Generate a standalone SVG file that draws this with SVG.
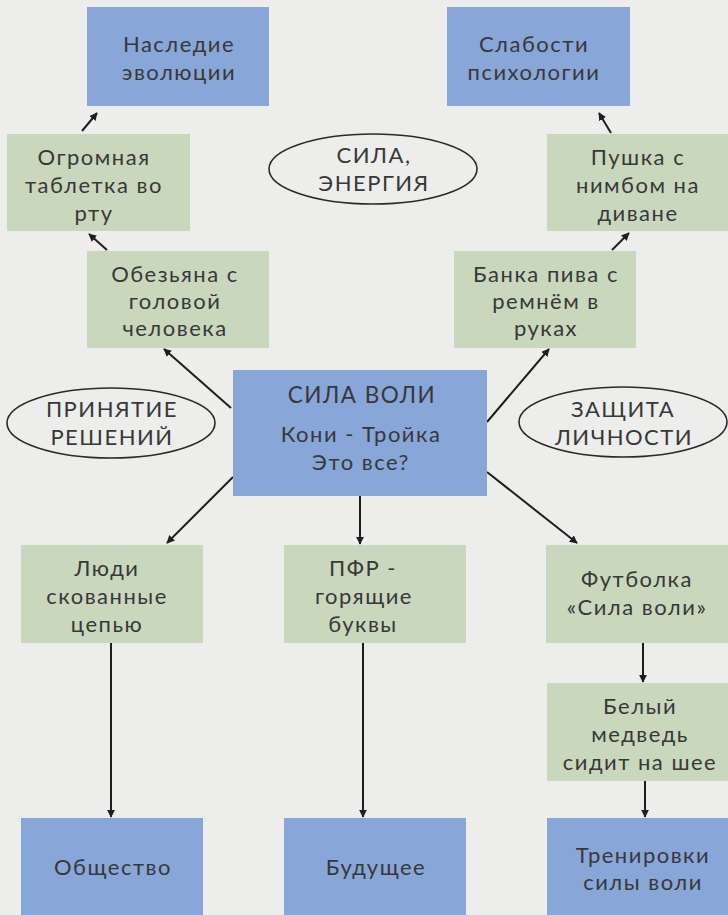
<svg xmlns="http://www.w3.org/2000/svg" width="728" height="915" viewBox="0 0 728 915">
<defs>
<marker id="ah" viewBox="0 0 10 10" refX="9" refY="5" markerWidth="4" markerHeight="4" orient="auto" markerUnits="strokeWidth">
<path d="M0,0 L10,5 L0,10 z" fill="#1e1e1e"/>
</marker>
<style>
.bg{fill:#ededeb}
.blue{fill:#89a6d8}
.green{fill:#c9d7bd}
.oval{fill:none;stroke:#2a2a2a;stroke-width:1.6}
text{font-family:Lato,"Open Sans","DejaVu Sans",sans-serif;font-size:22px;letter-spacing:1.5px;fill:#383838;text-anchor:middle}
.cap{font-size:22px}
.con{stroke:#1e1e1e;stroke-width:2;fill:none;marker-end:url(#ah)}
</style>
</defs>
<rect class="bg" x="0" y="0" width="728" height="915"/>

<g id="connectors">
<line class="con" x1="82" y1="131" x2="97" y2="113"/>
<line class="con" x1="107" y1="250" x2="89" y2="234"/>
<line class="con" x1="231" y1="408" x2="164" y2="349"/>
<line class="con" x1="487" y1="422" x2="549" y2="349"/>
<line class="con" x1="612" y1="250" x2="629" y2="233"/>
<line class="con" x1="611" y1="133" x2="599" y2="113"/>
<line class="con" x1="233" y1="477" x2="167" y2="543"/>
<line class="con" x1="360" y1="496" x2="360" y2="544"/>
<line class="con" x1="487" y1="472" x2="577" y2="543"/>
<line class="con" x1="643" y1="643" x2="643" y2="682"/>
<line class="con" x1="645" y1="781" x2="645" y2="817"/>
<line class="con" x1="111" y1="643" x2="111" y2="817"/>
<line class="con" x1="363" y1="643" x2="363" y2="817"/>
</g>

<g id="nasledie">
<rect class="blue" x="87" y="7" width="182" height="99"/>
<text x="179" y="52">Наследие</text>
<text x="179" y="80">эволюции</text>
</g>
<g id="slabosti">
<rect class="blue" x="447" y="7" width="183" height="99"/>
<text x="534" y="52">Слабости</text>
<text x="534" y="80">психологии</text>
</g>
<g id="tabletka">
<rect class="green" x="7" y="134" width="183" height="97"/>
<text x="94" y="165">Огромная</text>
<text x="94" y="193">таблетка во</text>
<text x="94" y="221">рту</text>
</g>
<g id="pushka">
<rect class="green" x="547" y="134" width="181" height="97"/>
<text x="638" y="165">Пушка с</text>
<text x="638" y="193">нимбом на</text>
<text x="638" y="221">диване</text>
</g>
<g id="obezyana">
<rect class="green" x="87" y="251" width="182" height="97"/>
<text x="175" y="282">Обезьяна с</text>
<text x="175" y="309">головой</text>
<text x="175" y="336">человека</text>
</g>
<g id="banka">
<rect class="green" x="454" y="251" width="182" height="97"/>
<text x="546" y="282">Банка пива с</text>
<text x="546" y="309">ремнём в</text>
<text x="546" y="336">руках</text>
</g>
<g id="sila-energiya">
<ellipse class="oval" cx="373" cy="169" rx="104" ry="35"/>
<text class="cap" x="374" y="163">СИЛА,</text>
<text class="cap" x="374" y="191">ЭНЕРГИЯ</text>
</g>
<g id="prinyatie">
<ellipse class="oval" cx="111" cy="423" rx="104" ry="35"/>
<text class="cap" x="112" y="417">ПРИНЯТИЕ</text>
<text class="cap" x="112" y="445">РЕШЕНИЙ</text>
</g>
<g id="zashchita">
<ellipse class="oval" cx="623" cy="422" rx="104" ry="35"/>
<text class="cap" x="623" y="417">ЗАЩИТА</text>
<text class="cap" x="624" y="445">ЛИЧНОСТИ</text>
</g>
<g id="sila-voli">
<rect class="blue" x="233" y="370" width="254" height="126"/>
<text x="362" y="403" style="font-size:22.5px">СИЛА ВОЛИ</text>
<text x="361" y="442">Кони - Тройка</text>
<text x="361" y="470">Это все?</text>
</g>
<g id="lyudi">
<rect class="green" x="21" y="545" width="182" height="98"/>
<text x="107" y="576">Люди</text>
<text x="107" y="604">скованные</text>
<text x="107" y="632">цепью</text>
</g>
<g id="pfr">
<rect class="green" x="284" y="545" width="182" height="98"/>
<text x="363" y="576">ПФР -</text>
<text x="364" y="604">горящие</text>
<text x="363" y="632">буквы</text>
</g>
<g id="futbolka">
<rect class="green" x="546" y="545" width="182" height="98"/>
<text x="637" y="587">Футболка</text>
<text x="637" y="615">«Сила воли»</text>
</g>
<g id="medved">
<rect class="green" x="547" y="683" width="181" height="98"/>
<text x="640" y="714">Белый</text>
<text x="640" y="742">медведь</text>
<text x="640" y="770">сидит на шее</text>
</g>
<g id="obshchestvo">
<rect class="blue" x="21" y="818" width="182" height="97"/>
<text x="113" y="875">Общество</text>
</g>
<g id="budushchee">
<rect class="blue" x="284" y="818" width="182" height="97"/>
<text x="376" y="875">Будущее</text>
</g>
<g id="trenirovki">
<rect class="blue" x="547" y="818" width="181" height="97"/>
<text x="643" y="863">Тренировки</text>
<text x="643" y="890">силы воли</text>
</g>
</svg>
